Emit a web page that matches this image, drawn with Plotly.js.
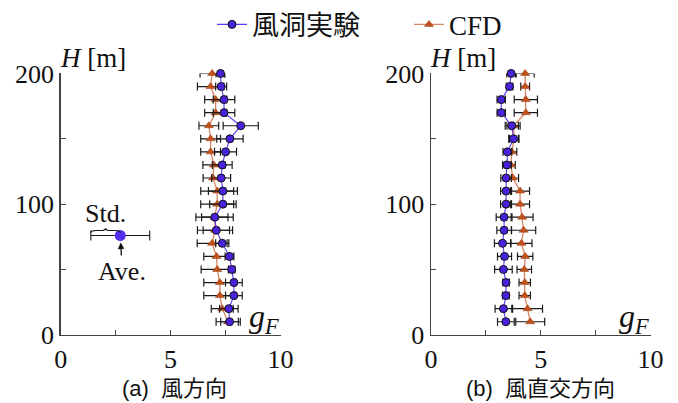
<!DOCTYPE html>
<html><head><meta charset="utf-8">
<script src="https://cdn.plot.ly/plotly-3.0.1.min.js"></script>
<style>html,body{margin:0;padding:0;background:#fff}#chart{width:678px;height:403px}</style>
</head><body><div id="chart"></div>
<script>
// Heights [m]
const heights = [10,20,30,40,50,60,70,80,90,100,110,120,130,140,150,160,170,180,190,200];

// (a) along-wind: wind tunnel experiment (mean, std) and CFD (mean, std)
const expMeanA = [7.68,7.65,7.88,7.88,7.78,7.68,7.35,7.08,7.01,7.38,7.38,7.30,7.35,7.50,7.70,8.19,7.43,7.43,7.30,7.27];
const expStdA  = [0.40,0.42,0.38,0.38,0.15,0.20,0.30,0.60,0.60,0.60,0.66,0.43,0.45,0.50,0.60,0.80,0.49,0.49,0.25,0.20];
const cfdMeanA = [7.62,7.35,7.24,7.24,7.12,7.09,6.89,7.02,7.00,7.12,7.12,6.93,6.97,6.82,6.82,6.74,7.05,7.05,6.82,6.89];
const cfdStdA  = [0.55,0.50,0.73,0.73,0.73,0.58,0.68,0.80,0.85,0.75,0.75,0.45,0.50,0.45,0.45,0.45,0.50,0.50,0.60,0.55];

// (b) across-wind
const expMeanB = [3.41,3.30,3.41,3.42,3.30,3.35,3.26,3.33,3.33,3.42,3.42,3.42,3.46,3.48,3.76,3.68,3.20,3.20,3.58,3.65];
const expStdB  = [0.38,0.38,0.15,0.15,0.40,0.32,0.37,0.33,0.36,0.25,0.25,0.24,0.20,0.20,0.22,0.30,0.19,0.19,0.15,0.20];
const cfdMeanB = [4.52,4.40,4.27,4.27,4.25,4.29,4.12,4.22,4.15,4.06,4.06,3.73,3.64,3.68,3.79,3.76,4.32,4.32,4.29,4.29];
const cfdStdB  = [0.66,0.68,0.26,0.26,0.33,0.35,0.48,0.55,0.50,0.43,0.43,0.26,0.20,0.23,0.22,0.30,0.53,0.53,0.20,0.41];

// Explanatory example marker (Ave. / Std.)
const exMean = [2.71];
const exStd  = [1.34];
const exH    = [76];

// Tick labels (major); minor ticks drawn without labels
const xTickVals = [0,5,10];
const xTickText = ['0','5','10'];
const yTickVals = [0,100,200];
const yTickText = ['0','100','200'];

const names = {exp:'風洞実験', cfd:'CFD'};
const captions = ['(a)&nbsp;&nbsp;風方向','(b)&nbsp;&nbsp;風直交方向'];

const SERIF = "'Liberation Serif', 'Times New Roman', 'Noto Sans CJK JP', serif";
const SANS = "'Liberation Sans', Arial, 'Noto Sans CJK JP', sans-serif";

const expLine = '#5a3cf2', expFill = '#4a22dc';
const cfdLine = 'rgba(204,105,60,0.8)', cfdFill = '#c2521c';
const errStyle = (arr) => ({type:'data', array:arr, visible:true, color:'#1a1a1a', thickness:1.2, width:4});

function cfdTrace(x, s, xa, ya, show){
  return {x:x, y:heights, xaxis:xa, yaxis:ya, name:names.cfd, mode:'lines+markers', showlegend:show, legendrank:2,
    cliponaxis:false, line:{color:cfdLine, width:1.3},
    marker:{symbol:'triangle-up', size:8, color:cfdFill, line:{color:'#9a3a12', width:0.5}},
    error_x:errStyle(s)};
}
function expTrace(x, s, xa, ya, show){
  return {x:x, y:heights, xaxis:xa, yaxis:ya, name:names.exp, mode:'lines+markers', showlegend:show, legendrank:1,
    cliponaxis:false, line:{color:expLine, width:1.1},
    marker:{symbol:'circle', size:8, color:expFill, line:{color:'#111', width:1}},
    error_x:errStyle(s)};
}

const data = [
  cfdTrace(cfdMeanA, cfdStdA, 'x', 'y', true),
  expTrace(expMeanA, expStdA, 'x', 'y', true),
  cfdTrace(cfdMeanB, cfdStdB, 'x2', 'y2', false),
  expTrace(expMeanB, expStdB, 'x2', 'y2', false),
  {x:exMean, y:exH, xaxis:'x', yaxis:'y', mode:'markers', showlegend:false, cliponaxis:false,
   marker:{size:11, color:'#5530ee'},
   error_x:{type:'data', array:exStd, visible:true, color:'#1a1a1a', thickness:1.1, width:5}}
];

const W = 678, H = 403;
const px = v => v / W, py = v => 1 - v / H;

function axBase(){
  return {showgrid:false, zeroline:false, showline:true, linecolor:'#444', linewidth:1.5,
    ticks:'inside', ticklen:5, tickwidth:1, tickcolor:'#444', fixedrange:true,
    tickfont:{family:SERIF, size:26, color:'#111'}};
}
function xAxis(domain, anchor){
  return Object.assign(axBase(), {domain:domain, anchor:anchor, range:[0,10], tickmode:'array',
    tickvals:xTickVals, ticktext:xTickText,
    minor:{dtick:2.5, tick0:0, ticks:'inside', ticklen:5, tickwidth:1, tickcolor:'#444', showgrid:false}});
}
function yAxis(domain, anchor){
  return Object.assign(axBase(), {domain:domain, anchor:anchor, range:[0,200], tickmode:'array',
    tickvals:yTickVals, ticktext:yTickText,
    minor:{dtick:50, tick0:0, ticks:'inside', ticklen:5, tickwidth:1, tickcolor:'#444', showgrid:false}});
}

// curly brace over left half of the example bar (decoration)
const bx0 = exMean[0] - exStd[0], bx1 = exMean[0], bxm = (bx0 + bx1) / 2;
const b = exH[0] + 2.2, m = exH[0] + 3.8, t = exH[0] + 5.6, q = (bx1 - bx0) * 0.18;
const bracePath = `M ${bx0},${b} Q ${bx0},${m} ${bx0+q},${m} L ${bxm-q},${m} Q ${bxm},${m} ${bxm},${t} ` +
                  `Q ${bxm},${m} ${bxm+q},${m} L ${bx1-q},${m} Q ${bx1},${m} ${bx1},${b}`;

const layout = {
  width:W, height:H, margin:{l:0,r:0,t:0,b:0}, paper_bgcolor:'#fff', plot_bgcolor:'rgba(0,0,0,0)',
  font:{family:SERIF, size:26, color:'#111'},
  showlegend:true,
  legend:{orientation:'h', x:px(212), xanchor:'left', y:py(22), yanchor:'middle',
    font:{family:SERIF, size:27, color:'#111'}, entrywidth:152, bgcolor:'rgba(0,0,0,0)'},
  xaxis:xAxis([px(60.7), px(280.5)], 'y'),
  yaxis:yAxis([py(334.3), py(71)], 'x'),
  xaxis2:xAxis([px(431), px(650.5)], 'y2'),
  yaxis2:yAxis([py(334.3), py(71)], 'x2'),
  shapes:[{type:'path', xref:'x', yref:'y', path:bracePath, line:{color:'#111', width:1.1}}],
  annotations:[
    {text:'<i>H</i> [m]', xref:'paper', yref:'paper', x:px(58), y:py(55), xanchor:'left', yanchor:'middle', showarrow:false, font:{family:SERIF, size:27, color:'#111'}},
    {text:'<i>H</i> [m]', xref:'paper', yref:'paper', x:px(428), y:py(55), xanchor:'left', yanchor:'middle', showarrow:false, font:{family:SERIF, size:27, color:'#111'}},
    {text:'<i>g</i><sub><i>F</i></sub>', xref:'paper', yref:'paper', x:px(281), y:py(318), xanchor:'right', yanchor:'middle', showarrow:false, font:{family:SERIF, size:32, color:'#111'}},
    {text:'<i>g</i><sub><i>F</i></sub>', xref:'paper', yref:'paper', x:px(651), y:py(318), xanchor:'right', yanchor:'middle', showarrow:false, font:{family:SERIF, size:32, color:'#111'}},
    {text:'Std.', xref:'paper', yref:'paper', x:px(105), y:py(212), xanchor:'center', yanchor:'middle', showarrow:false, font:{family:SERIF, size:26, color:'#111'}},
    {text:'Ave.', xref:'x', yref:'y', x:exMean[0], y:exH[0], ax:2, ay:36, showarrow:true, arrowhead:2, arrowsize:1, arrowwidth:1.3, arrowcolor:'#111', standoff:7, font:{family:SERIF, size:26, color:'#111'}},
    {text:captions[0], xref:'paper', yref:'paper', x:px(174), y:py(388), xanchor:'center', yanchor:'middle', showarrow:false, font:{family:SANS, size:22, color:'#111'}},
    {text:captions[1], xref:'paper', yref:'paper', x:px(540), y:py(388), xanchor:'center', yanchor:'middle', showarrow:false, font:{family:SANS, size:22, color:'#111'}}
  ]
};

Plotly.newPlot('chart', data, layout, {displayModeBar:false, staticPlot:true});
</script>
</body></html>
